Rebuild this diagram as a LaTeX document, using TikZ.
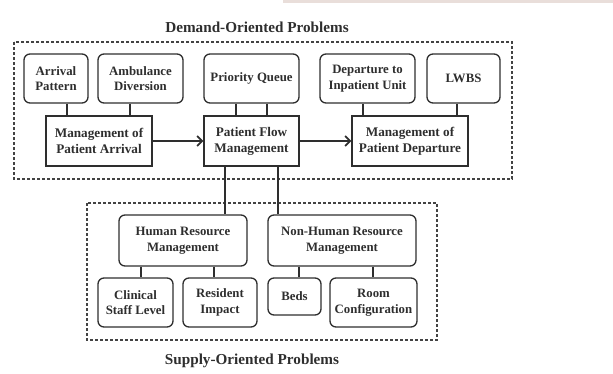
\documentclass[tikz,border=0pt]{standalone}
\usepackage{fontspec}
\setmainfont{Liberation Serif}
\usetikzlibrary{arrows.meta}
\definecolor{ink}{HTML}{2E2E2E}
\definecolor{blush}{HTML}{E9DEDA}
\begin{document}
\begin{tikzpicture}[x=1pt,y=-1pt,
	rbox/.style={draw=ink, line width=1.3pt, rounded corners=6pt, align=center, text=ink, font=\bfseries\fontsize{12.8}{15.5}\selectfont, inner sep=0pt},
	sbox/.style={draw=ink, line width=1.3pt, align=center, text=ink, font=\bfseries\fontsize{13.2}{16}\selectfont, inner sep=0pt},
	region/.style={draw=ink!90, line width=1.1pt, dash pattern=on 3pt off 2pt},
	link/.style={draw=ink, line width=1.3pt},
	flow/.style={draw=ink, line width=1.4pt, -{Straight Barb[length=5pt,width=10pt,line width=1.7pt]}},
	heading/.style={text=ink, font=\bfseries\fontsize{15.2}{18}\selectfont}]
	\useasboundingbox (0,0) rectangle (613,373);
	\fill[blush] (283,0) rectangle (613,3);

	\draw [region] (14,42) rectangle (512,179);
	\draw [region] (87,203) rectangle (437,340);
	\node [heading] (demand) at (257,27) {Demand-Oriented Problems};
	\node [heading] (supply) at (252,361) {Supply-Oriented Problems};

	\node [rbox, minimum width=64pt, minimum height=49pt] (arrival) at (56,78.5) {Arrival\\Pattern};
	\node [rbox, minimum width=85pt, minimum height=49pt] (ambulance) at (140.5,78.5) {Ambulance\\Diversion};
	\node [rbox, minimum width=95pt, minimum height=49pt] (queue) at (251.5,78.5) {Priority Queue};
	\node [rbox, minimum width=95pt, minimum height=49pt] (inpatient) at (367.5,78.5) {Departure to\\Inpatient Unit};
	\node [rbox, minimum width=73pt, minimum height=49pt] (lwbs) at (463.5,78.5) {LWBS};

	\node [sbox, minimum width=106pt, minimum height=50pt] (mgarrival) at (99,141) {Management of\\Patient Arrival};
	\node [sbox, minimum width=95pt, minimum height=50pt] (flowmg) at (251.5,141) {Patient Flow\\Management};
	\node [sbox, minimum width=116pt, minimum height=50pt] (mgdeparture) at (410,141) {Management of\\Patient Departure};

	\node [rbox, minimum width=128pt, minimum height=51pt] (human) at (183,240.5) {Human Resource\\Management};
	\node [rbox, minimum width=148pt, minimum height=51pt] (nonhuman) at (342,240.5) {Non-Human Resource\\Management};

	\node [rbox, minimum width=75pt, minimum height=49pt] (staff) at (135.5,302.5) {Clinical\\Staff Level};
	\node [rbox, minimum width=74pt, minimum height=49pt] (resident) at (220,302.5) {Resident\\Impact};
	\node [rbox, minimum width=53pt, minimum height=37pt] (beds) at (294.5,296.5) {Beds};
	\node [rbox, minimum width=87pt, minimum height=49pt] (room) at (373.5,302.5) {Room\\Configuration};

	\draw [link] ([xshift=11pt]arrival.south) -- ([xshift=11pt]arrival.south |- mgarrival.north);
	\draw [link] ([xshift=-10.5pt]ambulance.south) -- ([xshift=-10.5pt]ambulance.south |- mgarrival.north);
	\draw [link] ([xshift=-15.5pt]queue.south) -- ([xshift=-15.5pt]flowmg.north);
	\draw [link] ([xshift=15.5pt]queue.south) -- ([xshift=15.5pt]flowmg.north);
	\draw [link] ([xshift=-4.5pt]inpatient.south) -- ([xshift=-4.5pt]inpatient.south |- mgdeparture.north);
	\draw [link] ([xshift=-6.5pt]lwbs.south) -- ([xshift=-6.5pt]lwbs.south |- mgdeparture.north);

	\draw [flow] (mgarrival.east) -- (flowmg.west);
	\draw [flow] (flowmg.east) -- (mgdeparture.west);

	\draw [link] ([xshift=-26.5pt]flowmg.south) -- ([xshift=-26.5pt]flowmg.south |- human.north);
	\draw [link] ([xshift=26.5pt]flowmg.south) -- ([xshift=26.5pt]flowmg.south |- nonhuman.north);

	\draw [link] ([xshift=5.5pt]staff.north |- human.south) -- ([xshift=5.5pt]staff.north);
	\draw [link] ([xshift=-6pt]resident.north |- human.south) -- ([xshift=-6pt]resident.north);
	\draw [link] ([xshift=4.5pt]beds.north |- nonhuman.south) -- ([xshift=4.5pt]beds.north);
	\draw [link] ([xshift=-0.5pt]room.north |- nonhuman.south) -- ([xshift=-0.5pt]room.north);
\end{tikzpicture}
\end{document}
